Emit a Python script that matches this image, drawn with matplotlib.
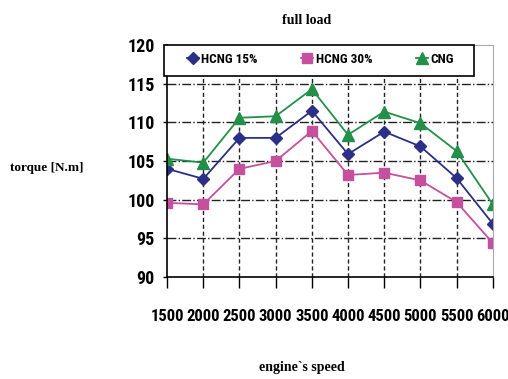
import matplotlib.pyplot as plt
from matplotlib.patches import Rectangle

# engine speed [rpm]
speed = [1500, 2000, 2500, 3000, 3500, 4000, 4500, 5000, 5500, 6000]
# torque [N.m]
hcng15 = [104.0, 102.7, 108.0, 108.0, 111.5, 105.9, 108.8, 106.9, 102.8, 96.9]
hcng30 = [99.6, 99.4, 104.0, 105.0, 108.9, 103.2, 103.5, 102.5, 99.7, 94.4]
cng = [105.3, 104.8, 110.6, 110.8, 114.3, 108.4, 111.4, 109.9, 106.3, 99.4]
yticks = [90, 95, 100, 105, 110, 115, 120]

tick_font = ['Roboto Condensed', 'DejaVu Sans']
serif = ['Liberation Serif', 'DejaVu Serif']

fig = plt.figure(figsize=(5.08, 3.79), dpi=100)
ax = fig.add_axes([0.329, 0.269, 0.641, 0.612])

ax.plot(speed, hcng15, '-D', color='#2B2F85', lw=1.3, ms=6.5, label='HCNG 15%')
ax.plot(speed, hcng30, '-s', color='#C4509E', lw=1.3, ms=7.5, label='HCNG 30%')
ax.plot(speed, cng, '-^', color='#23904A', lw=1.3, ms=8.5, label='CNG')

ax.set_xlim(1500, 6000)
ax.set_ylim(90, 120)
ax.set_xticks(speed)
ax.set_yticks(yticks)
ax.set_xticklabels([str(s) for s in speed], fontsize=12, fontweight='bold', family=tick_font)
ax.set_yticklabels([str(v) for v in yticks], fontsize=13, fontweight='bold', family=tick_font)
ax.tick_params(axis='x', length=8, width=1, pad=15, direction='out')
ax.tick_params(axis='y', length=3, width=1, pad=6, direction='out')

# grid: dash-dot horizontal, dashed vertical
for v in yticks[1:-1]:
    ax.axhline(v, color='#222222', lw=1.0, ls='-.', zorder=0)
for s in speed[1:-1]:
    ax.axvline(s, color='#222222', lw=1.0, ls=(0, (3, 2)), zorder=0)

for side in ['top', 'right']:
    ax.spines[side].set_color('#AAAAAA')
for side in ['left', 'bottom']:
    ax.spines[side].set_color('black')
    ax.spines[side].set_linewidth(1.2)

# legend box
box = Rectangle((-0.01, 0.866), 0.953, 0.134, transform=ax.transAxes,
                facecolor='white', edgecolor='black', lw=1.2, zorder=4.5, clip_on=False)
ax.add_patch(box)
leg = ax.legend(loc='center', bbox_to_anchor=(0.471, 0.9375), ncol=3, frameon=False,
                handlelength=0.9, handletextpad=0.2, columnspacing=3.3,
                borderaxespad=0, borderpad=0,
                prop={'family': tick_font, 'weight': 'bold', 'size': 9.5})

fig.text(0.604, 0.945, 'full load', ha='center', va='center',
         family=serif, fontweight='bold', fontsize=10)
fig.text(0.02, 0.557, 'torque [N.m]', ha='left', va='center',
         family=serif, fontweight='bold', fontsize=9.5)
fig.text(0.595, 0.03, 'engine`s speed', ha='center', va='center',
         family=serif, fontweight='bold', fontsize=10)

fig.savefig('out.png', dpi=100)
